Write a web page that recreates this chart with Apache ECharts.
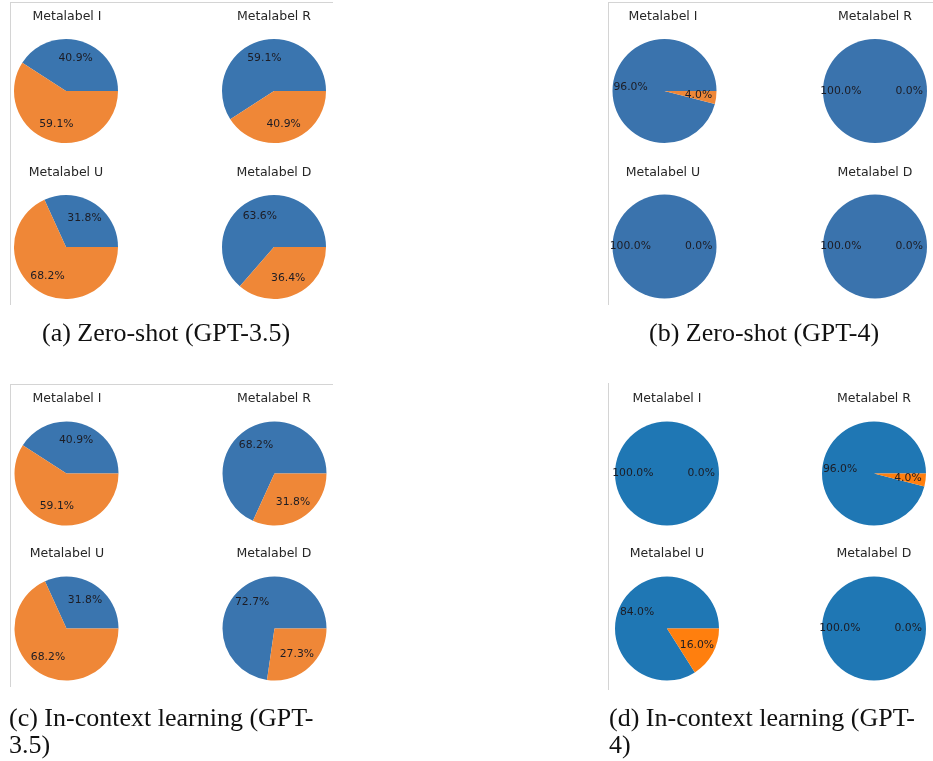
<!DOCTYPE html>
<html>
<head>
<meta charset="utf-8">
<script src="https://cdn.jsdelivr.net/npm/echarts@6/dist/echarts.min.js"></script>
<style>html,body{margin:0;padding:0;background:#fff}#c{width:933px;height:761px}</style>
</head>
<body>
<div id="c"></div>
<script>
// ---- data ----
const metalabels = ['Metalabel I', 'Metalabel R', 'Metalabel U', 'Metalabel D'];
const sliceNames = ['A', 'B'];
const captions = ['(a) Zero-shot (GPT-3.5)', '(b) Zero-shot (GPT-4)', '(c) In-context learning (GPT-\n3.5)', '(d) In-context learning (GPT-\n4)'];
// blue share / orange share per metalabel (I, R, U, D)
const zeroShot35Blue = [40.9, 59.1, 31.8, 63.6];
const zeroShot35Orange = [59.1, 40.9, 68.2, 36.4];
const zeroShot4Blue = [96.0, 100.0, 100.0, 100.0];
const zeroShot4Orange = [4.0, 0.0, 0.0, 0.0];
const icl35Blue = [40.9, 68.2, 31.8, 72.7];
const icl35Orange = [59.1, 31.8, 68.2, 27.3];
const icl4Blue = [100.0, 96.0, 84.0, 100.0];
const icl4Orange = [0.0, 4.0, 16.0, 0.0];

// ---- layout / style ----
const panelData = [[zeroShot35Blue, zeroShot35Orange], [zeroShot4Blue, zeroShot4Orange], [icl35Blue, icl35Orange], [icl4Blue, icl4Orange]];
const panelColors = [['#3a75af', '#ef8737'], ['#3a73ad', '#ef8737'], ['#3a75af', '#ef8737'], ['#1f77b4', '#ff7f0e']];
const pieCenters = [
  [[66, 91], [274, 91], [66, 247], [274, 247]],
  [[664.5, 91], [875, 91], [664.5, 246.5], [875, 246.5]],
  [[66.5, 473.5], [274.5, 473.5], [66.5, 628.5], [274.5, 628.5]],
  [[667, 473.5], [874, 473.5], [667, 628.5], [874, 628.5]]
];
const titlePos = [
  [[67, 16], [274, 16], [66, 172], [274, 172]],
  [[663, 16], [875, 16], [663, 172], [875, 172]],
  [[67, 398], [274, 398], [67, 553], [274, 553]],
  [[667, 398], [874, 398], [667, 553], [874, 553]]
];
const captionPos = [[42, 321], [649, 321], [9, 706], [609, 706]];
const R = 52;

const series = [];
const titles = [];
panelData.forEach((pd, p) => {
  metalabels.forEach((ml, i) => {
    const data = sliceNames.map((n, k) => ({ name: n, value: pd[k][i], itemStyle: { color: panelColors[p][k] } }));
    const common = {
      type: 'pie', center: pieCenters[p][i], startAngle: 0, clockwise: false,
      avoidLabelOverlap: false, silent: true, animation: false,
      emphasis: { disabled: true }, labelLine: { show: false }
    };
    series.push(Object.assign({}, common, {
      radius: [0, R], data: data, label: { show: false },
      itemStyle: { borderWidth: 0 }
    }));
    series.push(Object.assign({}, common, {
      radius: [R * 0.2, R],
      data: data.map(d => ({ name: d.name, value: d.value, itemStyle: { color: 'rgba(0,0,0,0)' } })),
      itemStyle: { borderWidth: 0 },
      label: {
        show: true, position: 'inside', color: '#1c1c24', fontFamily: 'DejaVu Sans', fontSize: 10.8,
        formatter: (q) => q.value.toFixed(1) + '%'
      }
    }));
    titles.push({
      text: ml, left: titlePos[p][i][0], top: titlePos[p][i][1] - 6, textAlign: 'center',
      textStyle: { fontFamily: 'DejaVu Sans', fontSize: 12.5, fontWeight: 'normal', color: '#262626' },
      padding: 0
    });
  });
});

const lineStyle = { stroke: '#d4d4d4', lineWidth: 1 };
const graphic = [
  { type: 'line', shape: { x1: 10, y1: 2.5, x2: 333, y2: 2.5 }, style: lineStyle, silent: true },
  { type: 'line', shape: { x1: 10.5, y1: 2, x2: 10.5, y2: 305 }, style: lineStyle, silent: true },
  { type: 'line', shape: { x1: 608, y1: 2.5, x2: 933, y2: 2.5 }, style: lineStyle, silent: true },
  { type: 'line', shape: { x1: 608.5, y1: 2, x2: 608.5, y2: 305 }, style: lineStyle, silent: true },
  { type: 'line', shape: { x1: 10, y1: 384.5, x2: 333, y2: 384.5 }, style: lineStyle, silent: true },
  { type: 'line', shape: { x1: 10.5, y1: 384, x2: 10.5, y2: 687 }, style: lineStyle, silent: true },
  { type: 'line', shape: { x1: 608.5, y1: 383, x2: 608.5, y2: 690 }, style: lineStyle, silent: true }
];
captions.forEach((c, p) => {
  graphic.push({
    type: 'text', left: captionPos[p][0], top: captionPos[p][1], silent: true,
    style: { text: c, fontFamily: 'Liberation Serif', fontSize: 26, fill: '#111', lineHeight: 27 }
  });
});

const chart = echarts.init(document.getElementById('c'), null, { renderer: 'canvas' });
chart.setOption({ animation: false, title: titles, series: series, graphic: graphic });
</script>
</body>
</html>
